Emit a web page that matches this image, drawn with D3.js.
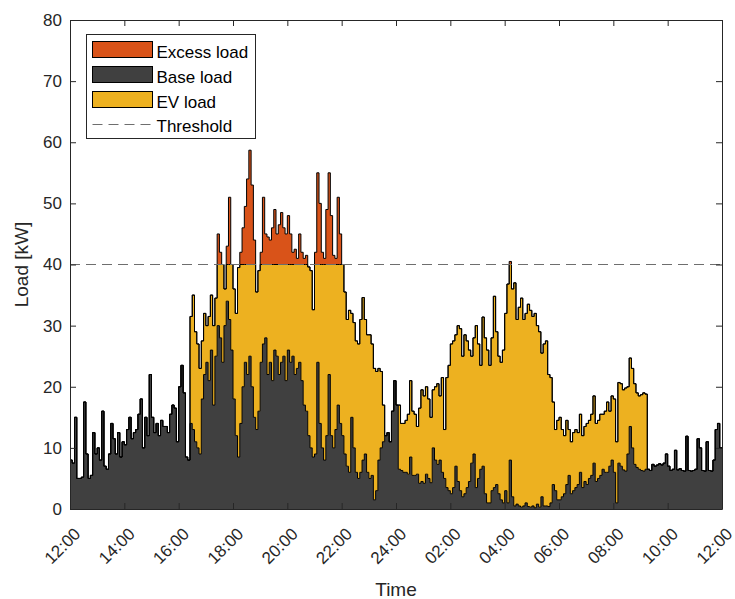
<!DOCTYPE html>
<html>
<head>
<meta charset="utf-8">
<script src="https://cdn.jsdelivr.net/npm/d3@7"></script>
<style>
	body { margin: 0; background: #fff; }
	svg { display: block; font-family: 'Liberation Sans', Arial, sans-serif; }
</style>
</head>
<body>
<div class="load_chart"></div>
<script>
const HEIGHT = 599;
const WIDTH = 735;
const MARGIN = { top: 20, right: 13, bottom: 90, left: 70 };

// one reading every 5 minutes, from 12:00 to 12:00 the next day
const STEP_HOURS = 5 / 60;
const THRESHOLD = 40;

// base load in kW, one row per hour
const baseLoad = [
	8, 7.5, 15, 5, 5, 5.2, 17.5, 9, 5, 5.5, 12.5, 9,
	10, 8, 16, 7, 6.5, 9, 14, 11.5, 9, 12.5, 8.5, 11,
	10.5, 13, 15, 11.5, 12.5, 13, 15.5, 18, 10, 15, 12, 22,
	15, 12.5, 14, 12, 14.5, 13.5, 13.5, 12.5, 15.5, 17, 16.5, 11,
	20, 23.5, 19, 8.5, 8, 14, 13, 11, 10, 9, 18, 22,
	24, 21, 26, 17, 25, 30, 28, 24, 30, 34, 31, 26,
	18, 12, 8.5, 14, 20, 24, 22, 25, 20, 15, 13, 16,
	24, 27, 28, 22, 24, 21, 26, 25, 22, 24, 25, 21,
	26, 24, 25, 22, 23, 24, 21, 17, 16, 12, 10, 8.5,
	9, 24, 14, 10, 8, 12, 22, 12, 10, 13, 17, 14,
	12, 9, 7, 6, 15, 10, 6, 5, 6, 8, 9, 6,
	5, 5.5, 1.5, 3, 8, 10, 11, 12, 12.5, 11, 16, 21,
	17, 6.5, 6.3, 6, 6, 5.7, 8.5, 5.5, 5.5, 5.7, 4.2, 4.5,
	4.2, 5.7, 5, 4.3, 10, 8, 7.3, 8, 6, 5, 3.5, 3,
	2.5, 3.5, 7, 4.5, 3, 2, 2.5, 3.5, 4.5, 7.5, 9, 3.5,
	5, 6.5, 7, 2.5, 1, 1, 3, 3.5, 4, 2.5, 1.5, 1,
	3, 1, 8, 2, 0.5, 0.8, 0.5, 0.3, 0.5, 1, 0.4, 0.3,
	0.5, 0.2, 0.8, 0.3, 2, 0.5, 0.5, 0.4, 1, 4, 3, 1.5,
	1.5, 2, 2.5, 4, 5.5, 2.5, 3, 3.5, 4, 6, 3.5, 4.5,
	4, 5, 5.5, 7.5, 4.5, 5, 5.5, 6.5, 6, 6, 7, 8,
	6, 1, 7.5, 7, 6.4, 6.2, 9, 13.5, 10, 7.3, 6.8, 6.5,
	6.3, 6.2, 6.5, 6.5, 6.3, 7.3, 7, 7.2, 7.4, 7.2, 7.5, 9,
	7, 6.3, 6.5, 9.6, 6.4, 6.6, 6.3, 6.2, 11.9, 6.3, 6.2, 6.3,
	6.5, 11.5, 10, 6.3, 6.2, 11, 6.3, 6.2, 8, 13, 14, 10
];

// total load (base + EV) in kW
const totalLoad = [
	8, 7.5, 15, 5, 5, 5.2, 17.5, 9, 5, 5.5, 12.5, 9,
	10, 8, 16, 7, 6.5, 9, 14, 11.5, 9, 12.5, 8.5, 11,
	10.5, 13, 15, 11.5, 12.5, 13, 15.5, 18, 10, 15, 12, 22,
	15, 12.5, 14, 12, 14.5, 13.5, 13.5, 12.5, 15.5, 17, 16.5, 11,
	20, 23.5, 19, 8.5, 8, 31.5, 35, 29, 27, 23, 27.5, 32,
	30, 31.5, 35, 30, 34.5, 45, 42, 40, 36, 43, 51, 40,
	36, 32, 39.5, 42, 46, 49.5, 54, 58.7, 53, 44, 35.5, 39,
	42, 51, 45, 44.5, 44, 46, 49, 45, 46.5, 48.5, 46, 45,
	48, 45, 42, 42.5, 41, 45, 42, 41, 41.5, 39.6, 39, 32.6,
	42, 55, 50, 42, 41, 49, 55, 48, 41.5, 41, 51, 45,
	40, 35.5, 31, 32.5, 32, 30.5, 27.5, 27, 31, 34.6, 31, 28.5,
	28.5, 27, 23, 22.5, 23, 22.5, 17, 12, 12.5, 11, 16, 21,
	17, 17, 14, 14, 14.5, 15.5, 21, 16, 15.5, 13.5, 16.5, 19.5,
	18.5, 20, 18, 15, 19.5, 20, 20.5, 18.5, 21.5, 13, 21.5, 23.5,
	27, 27.5, 28.5, 30, 29.5, 25, 28.5, 27.5, 26, 25, 28, 30,
	27, 23.5, 31.4, 28, 26, 23.5, 28, 34.8, 29, 25, 24, 26,
	32, 36.8, 40.5, 36, 37, 31, 33, 34.5, 31, 32, 33.5, 32.5,
	31.5, 32, 30, 29, 25.5, 27, 27.5, 22, 21.5, 17.5, 13, 14.5,
	15, 13, 12, 14.5, 13, 11, 12.5, 13, 12.5, 15.5, 12, 13.5,
	14, 14.5, 15.5, 18.5, 14, 14.5, 15.5, 15.5, 16, 17.5, 16, 18.5,
	18, 11, 20.7, 20.5, 19.5, 19.8, 20, 24.7, 23, 20.5, 19, 18.5,
	18.7, 19, 18.8, 6.5, 6.3, 7.3, 7, 7.2, 7.4, 7.2, 7.5, 9,
	7, 6.3, 6.5, 9.6, 6.4, 6.6, 6.3, 6.2, 11.9, 6.3, 6.2, 6.3,
	6.5, 11.5, 10, 6.3, 6.2, 11, 6.3, 6.2, 8, 13, 14, 10
];

const xTicks = [0, 2, 4, 6, 8, 10, 12, 14, 16, 18, 20, 22, 24];
const xTickLabels = ['12:00', '14:00', '16:00', '18:00', '20:00', '22:00', '24:00',
	'02:00', '04:00', '06:00', '08:00', '10:00', '12:00'];
const yTicks = [0, 10, 20, 30, 40, 50, 60, 70, 80];
const legendLabels = ['Excess load', 'Base load', 'EV load', 'Threshold'];

const COLORS = { excess: '#D95319', base: '#404040', ev: '#EDB120', axis: '#262626' };

const svg = d3
	.select('.load_chart')
	.append('svg')
	.attr('height', HEIGHT)
	.attr('width', WIDTH);

drawChart();

function drawChart() {
	const points = totalLoad.map((total, i) => ({
		t: i * STEP_HOURS,
		base: baseLoad[i],
		total: total
	}));
	// hold the last reading up to the right edge
	points.push({ ...points[points.length - 1], t: 24 });

	const xScale = d3
		.scaleLinear()
		.domain([0, 24])
		.range([MARGIN.left, WIDTH - MARGIN.right]);

	const yScale = d3
		.scaleLinear()
		.domain([0, 80])
		.range([HEIGHT - MARGIN.bottom, MARGIN.top]);

	const evTop = d => Math.max(d.base, Math.min(d.total, THRESHOLD));

	svg.append('clipPath')
		.attr('id', 'plot-clip')
		.append('rect')
		.attr('x', MARGIN.left)
		.attr('y', MARGIN.top)
		.attr('width', WIDTH - MARGIN.left - MARGIN.right)
		.attr('height', HEIGHT - MARGIN.top - MARGIN.bottom);

	const plot = svg.append('g').attr('clip-path', 'url(#plot-clip)');

	// filled layers
	const layers = [
		{ color: COLORS.base, y0: () => 0, y1: d => d.base },
		{ color: COLORS.ev, y0: d => d.base, y1: evTop },
		{ color: COLORS.excess, y0: () => THRESHOLD, y1: d => Math.max(d.total, THRESHOLD) }
	];

	layers.forEach(layer => {
		const area = d3
			.area()
			.curve(d3.curveStepAfter)
			.x(d => xScale(d.t))
			.y0(d => yScale(layer.y0(d)))
			.y1(d => yScale(layer.y1(d)));

		plot.append('path')
			.datum(points)
			.attr('d', area)
			.attr('fill', layer.color);
	});

	// black outlines on top of each layer
	[d => d.base, evTop, d => d.total].forEach(top => {
		const line = d3
			.line()
			.curve(d3.curveStepAfter)
			.x(d => xScale(d.t))
			.y(d => yScale(top(d)));

		plot.append('path')
			.datum(points)
			.attr('d', line)
			.attr('fill', 'none')
			.attr('stroke', '#000')
			.attr('stroke-width', 1);
	});

	// threshold line
	svg.append('line')
		.attr('x1', xScale(0))
		.attr('x2', xScale(24))
		.attr('y1', yScale(THRESHOLD))
		.attr('y2', yScale(THRESHOLD))
		.attr('stroke', '#6e6e6e')
		.attr('stroke-width', 1)
		.attr('stroke-dasharray', '10,6');

	// axes, ticks pointing inwards on all four sides
	const xAxis = d3.axisBottom(xScale)
		.tickValues(xTicks)
		.tickFormat((d, i) => xTickLabels[i])
		.tickSizeInner(-6)
		.tickSizeOuter(0);

	const xAxisG = svg.append('g')
		.attr('transform', `translate(0, ${HEIGHT - MARGIN.bottom})`)
		.call(xAxis);

	xAxisG.selectAll('text')
		.attr('x', 0)
		.attr('y', 0)
		.attr('dy', null)
		.attr('text-anchor', 'end')
		.attr('transform', 'translate(11, 26) rotate(-45)');

	svg.append('g')
		.attr('transform', `translate(0, ${MARGIN.top})`)
		.call(d3.axisTop(xScale).tickValues(xTicks).tickFormat('').tickSizeInner(-6).tickSizeOuter(0));

	svg.append('g')
		.attr('transform', `translate(${MARGIN.left}, 0)`)
		.call(d3.axisLeft(yScale).tickValues(yTicks).tickSizeInner(-6).tickSizeOuter(0).tickPadding(8));

	svg.append('g')
		.attr('transform', `translate(${WIDTH - MARGIN.right}, 0)`)
		.call(d3.axisRight(yScale).tickValues(yTicks).tickFormat('').tickSizeInner(-6).tickSizeOuter(0));

	svg.selectAll('.domain, .tick line').attr('stroke', COLORS.axis);
	svg.selectAll('.tick text')
		.attr('fill', COLORS.axis)
		.style('font-size', '17px')
		.style('font-family', "'Liberation Sans', Arial, sans-serif");

	// axis labels
	svg.append('text')
		.attr('x', (MARGIN.left + WIDTH - MARGIN.right) / 2)
		.attr('y', 596)
		.attr('text-anchor', 'middle')
		.attr('fill', COLORS.axis)
		.style('font-size', '19px')
		.text('Time');

	svg.append('text')
		.attr('transform', 'rotate(-90)')
		.attr('x', -(MARGIN.top + HEIGHT - MARGIN.bottom) / 2)
		.attr('y', 28)
		.attr('text-anchor', 'middle')
		.attr('fill', COLORS.axis)
		.style('font-size', '19px')
		.text('Load [kW]');

	// legend
	const legend = svg.append('g').attr('transform', 'translate(86.5, 34.5)');

	legend.append('rect')
		.attr('width', 169)
		.attr('height', 104)
		.attr('fill', '#fff')
		.attr('stroke', COLORS.axis)
		.attr('stroke-width', 1);

	const patchColors = [COLORS.excess, COLORS.base, COLORS.ev];
	const rowBaselines = [23, 48, 73, 97];

	patchColors.forEach((color, i) => {
		legend.append('rect')
			.attr('x', 6)
			.attr('y', rowBaselines[i] - 16)
			.attr('width', 60)
			.attr('height', 16)
			.attr('fill', color)
			.attr('stroke', '#000')
			.attr('stroke-width', 1);
	});

	legend.append('line')
		.attr('x1', 6)
		.attr('x2', 66)
		.attr('y1', 90)
		.attr('y2', 90)
		.attr('stroke', '#6e6e6e')
		.attr('stroke-width', 1)
		.attr('stroke-dasharray', '10,6');

	legend.selectAll('.legend-label')
		.data(legendLabels)
		.enter()
		.append('text')
		.attr('class', 'legend-label')
		.attr('x', 70)
		.attr('y', (d, i) => rowBaselines[i])
		.attr('fill', '#000')
		.style('font-size', '17px')
		.text(d => d);
}
</script>
</body>
</html>
